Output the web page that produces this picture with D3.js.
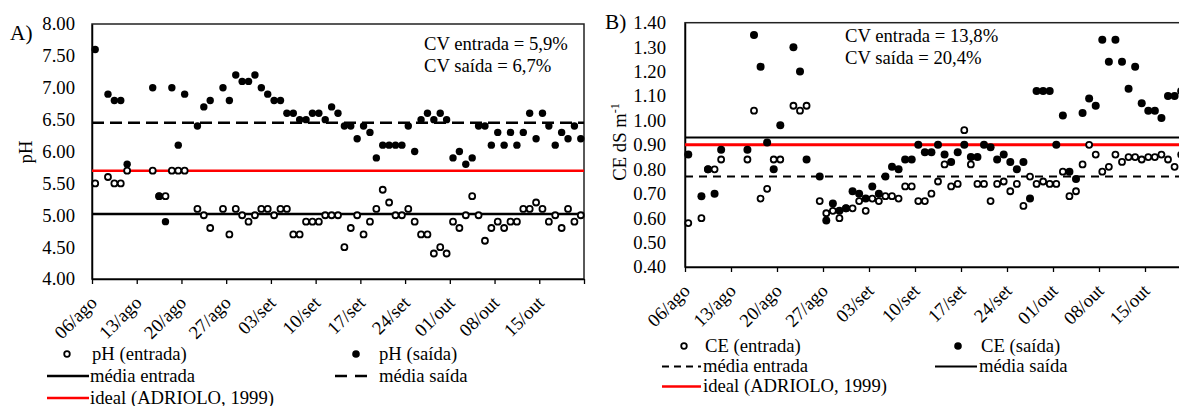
<!DOCTYPE html>
<html>
<head>
<meta charset="utf-8">
<script src="https://cdn.jsdelivr.net/npm/d3@7"></script>
<style>
  body { margin: 0; background: #fff; }
  svg { display: block; font-family: 'Liberation Serif', 'Times New Roman', serif; }
  .lbl { font-size: 18.67px; fill: #000; font-family: 'Liberation Serif', 'Times New Roman', serif; }
  .panel-title { font-size: 21.3px; fill: #000; }
</style>
</head>
<body>
<svg id="chart" width="1179" height="406"></svg>
<script>
// sampling days, counted from 06/ago
const sampleDays = [0, 2, 3, 4, 5, 9, 10, 11, 12, 13, 14, 16, 17, 18, 20, 21, 22, 23, 24, 25,
  26, 27, 28, 29, 30, 31, 32, 33, 34, 35, 36, 37, 38, 39, 40, 41, 42, 43, 44, 45,
  46, 47, 48, 49, 50, 51, 52, 53, 54, 55, 56, 57, 58, 59, 60, 61, 62, 63, 64, 65,
  66, 67, 68, 69, 70, 71, 72, 73, 74, 75, 76];

const weekLabels = ['06/ago', '13/ago', '20/ago', '27/ago', '03/set', '10/set',
  '17/set', '24/set', '01/out', '08/out', '15/out'];

const phEntrada = [5.5, 5.6, 5.5, 5.5, 5.7, 5.7, 5.3, 5.3, 5.7, 5.7, 5.7, 5.1, 5.0, 4.8, 5.1, 4.7, 5.1, 5.0, 4.9, 5.0,
  5.1, 5.1, 5.0, 5.1, 5.1, 4.7, 4.7, 4.9, 4.9, 4.9, 5.0, 5.0, 5.0, 4.5, 4.8, 5.0, 4.7, 4.9, 5.1, 5.4,
  5.2, 5.0, 5.0, 5.1, 4.9, 4.7, 4.7, 4.4, 4.5, 4.4, 4.9, 4.8, 5.0, 5.3, 5.0, 4.6, 4.8, 4.9, 4.8, 4.9,
  4.9, 5.1, 5.1, 5.2, 5.1, 4.9, 5.0, 4.8, 5.1, 4.9, 5.0];

const phSaida = [7.6, 6.9, 6.8, 6.8, 5.8, 7.0, 5.3, 4.9, 7.0, 6.1, 6.9, 6.4, 6.7, 6.8, 7.0, 6.8, 7.2, 7.1, 7.1, 7.2,
  7.0, 6.9, 6.8, 6.8, 6.6, 6.6, 6.5, 6.5, 6.6, 6.6, 6.5, 6.7, 6.6, 6.4, 6.4, 6.2, 6.4, 6.3, 5.9, 6.1,
  6.1, 6.1, 6.1, 6.4, 6.0, 6.5, 6.6, 6.5, 6.6, 6.5, 5.9, 6.0, 5.8, 5.9, 6.4, 6.4, 6.1, 6.3, 6.1, 6.3,
  6.1, 6.3, 6.6, 6.2, 6.6, 6.4, 6.1, 6.3, 6.2, 6.4, 6.2];

const ceEntrada = [0.58, 0.60, 0.80, 0.80, 0.84, 0.84, 1.04, 0.68, 0.72, 0.84, 0.84, 1.06, 1.04, 1.06, 0.67, 0.62, 0.63, 0.60, 0.64, 0.64,
  0.67, 0.63, 0.68, 0.67, 0.69, 0.69, 0.68, 0.73, 0.73, 0.67, 0.67, 0.70, 0.75, 0.82, 0.73, 0.74, 0.96, 0.82, 0.74, 0.74,
  0.67, 0.74, 0.75, 0.71, 0.74, 0.65, 0.77, 0.74, 0.75, 0.74, 0.74, 0.79, 0.69, 0.71, 0.82, 0.90, 0.86, 0.79, 0.81, 0.86,
  0.83, 0.85, 0.85, 0.84, 0.85, 0.85, 0.86, 0.84, 0.81, 0.86, 0.84];

const ceSaida = [0.86, 0.69, 0.80, 0.70, 0.88, 0.88, 1.35, 1.22, 0.91, 0.80, 0.98, 1.30, 1.20, 0.84, 0.77, 0.59, 0.66, 0.63, 0.64, 0.71,
  0.70, 0.68, 0.73, 0.70, 0.77, 0.81, 0.80, 0.84, 0.84, 0.90, 0.87, 0.87, 0.90, 0.86, 0.83, 0.87, 0.90, 0.85, 0.85, 0.90,
  0.89, 0.84, 0.86, 0.83, 0.80, 0.83, 0.68, 1.12, 1.12, 1.12, 0.90, 1.02, 0.79, 0.76, 1.03, 1.09, 1.06, 1.33, 1.24, 1.33,
  1.24, 1.13, 1.22, 1.07, 1.04, 1.04, 1.01, 1.10, 1.10, 1.12, 1.12];

const phTicks = [4, 4.5, 5, 5.5, 6, 6.5, 7, 7.5, 8];
const ceTicks = [0.4, 0.5, 0.6, 0.7, 0.8, 0.9, 1.0, 1.1, 1.2, 1.3, 1.4];

const phMediaEntrada = 5.02;
const phMediaSaida = 6.45;
const phIdeal = 5.70;
const ceMediaEntrada = 0.77;
const ceMediaSaida = 0.93;
const ceIdeal = 0.90;

const phCv = ['CV entrada = 5,9%', 'CV saída = 6,7%'];
const ceCv = ['CV entrada = 13,8%', 'CV saída = 20,4%'];

class ScatterPanel {
  constructor(_config, _data) {
    this.config = _config;
    this.data = _data;
    this.initVis();
  }

  initVis() {
    const vis = this;
    const c = vis.config;
    vis.svg = d3.select(c.parentElement);
    vis.g = vis.svg.append('g');

    vis.xScale = d3.scaleLinear().domain([0, 77]).range([c.left, c.right]);
    vis.yScale = d3.scaleLinear().domain(c.yDomain).range([c.bottom, c.top]);

    // plot area border
    vis.g.append('rect')
      .attr('x', c.left)
      .attr('y', c.top)
      .attr('width', c.right - c.left)
      .attr('height', c.bottom - c.top)
      .attr('fill', 'none')
      .attr('stroke', '#222')
      .attr('stroke-width', 1.5);

    // y axis
    const yAxis = vis.g.append('g')
      .attr('transform', `translate(${c.left},0)`)
      .call(d3.axisLeft(vis.yScale)
        .tickValues(c.yTicks)
        .tickSize(0)
        .tickPadding(c.yTickPad)
        .tickFormat(d3.format('.2f')));
    yAxis.attr('font-family', null).attr('font-size', null);
    yAxis.select('.domain').attr('stroke', '#000').attr('stroke-width', 1.5);
    yAxis.selectAll('text').attr('class', 'lbl');

    // x axis with weekly ticks
    const weekTicks = d3.range(0, 78, 7);
    const xAxis = vis.g.append('g')
      .attr('transform', `translate(0,${c.bottom})`)
      .call(d3.axisBottom(vis.xScale)
        .tickValues(weekTicks)
        .tickSizeInner(5)
        .tickSizeOuter(0)
        .tickFormat(''));
    xAxis.select('.domain').attr('stroke', '#000').attr('stroke-width', 1.5);
    xAxis.selectAll('line').attr('stroke', '#000').attr('stroke-width', 1.3);

    vis.g.selectAll('.xlab')
      .data(weekLabels)
      .join('text')
      .attr('class', 'lbl xlab')
      .attr('text-anchor', 'end')
      .attr('transform', (d, i) => `translate(${vis.xScale(i * 7) + 6},${c.bottom + 25}) rotate(-45)`)
      .text((d) => d);

    // reference lines
    vis.g.selectAll('.ref')
      .data(c.refLines)
      .join('line')
      .attr('class', 'ref')
      .attr('x1', c.left)
      .attr('x2', c.right)
      .attr('y1', (d) => vis.yScale(d.value))
      .attr('y2', (d) => vis.yScale(d.value))
      .attr('stroke', (d) => d.color)
      .attr('stroke-width', (d) => d.width)
      .attr('stroke-dasharray', (d) => d.dash);

    // entrada (open) then saida (filled)
    const pts = (vals) => vals.map((v, i) => ({ day: sampleDays[i], v }));
    vis.g.selectAll('.open')
      .data(pts(vis.data.entrada))
      .join('circle')
      .attr('class', 'open')
      .attr('cx', (d) => vis.xScale(d.day + 0.5))
      .attr('cy', (d) => vis.yScale(d.v))
      .attr('r', c.openR)
      .attr('fill', '#fff')
      .attr('stroke', '#000')
      .attr('stroke-width', 1.8);

    vis.g.selectAll('.filled')
      .data(pts(vis.data.saida))
      .join('circle')
      .attr('class', 'filled')
      .attr('cx', (d) => vis.xScale(d.day + 0.5))
      .attr('cy', (d) => vis.yScale(d.v))
      .attr('r', c.filledR)
      .attr('fill', '#000');

    // panel title and axis label
    vis.g.append('text')
      .attr('class', 'panel-title')
      .attr('x', c.titleX)
      .attr('y', c.titleY)
      .text(c.title);

    const yl = vis.g.append('text')
      .attr('class', 'lbl')
      .attr('text-anchor', 'middle')
      .attr('transform', `translate(${c.yLabelX},${c.yLabelY}) rotate(-90)`);
    yl.append('tspan').text(c.yLabel);
    if (c.yLabelSup) {
      yl.append('tspan').attr('dy', -7).attr('font-size', 12).text(c.yLabelSup);
    }

    // CV annotation
    vis.g.selectAll('.cv')
      .data(c.cv)
      .join('text')
      .attr('class', 'lbl cv')
      .attr('x', c.cvX)
      .attr('y', (d, i) => c.cvY + i * 22)
      .text((d) => d);

    vis.renderLegend();
  }

  renderLegend() {
    const vis = this;
    const items = vis.config.legend;
    items.forEach((it) => {
      if (it.type === 'open') {
        vis.g.append('circle').attr('cx', it.mx).attr('cy', it.y).attr('r', 2.8)
          .attr('fill', '#fff').attr('stroke', '#000').attr('stroke-width', 1.8);
      } else if (it.type === 'filled') {
        vis.g.append('circle').attr('cx', it.mx).attr('cy', it.y).attr('r', 3.8).attr('fill', '#000');
      } else {
        vis.g.append('line')
          .attr('x1', it.mx).attr('x2', it.mx2)
          .attr('y1', it.y).attr('y2', it.y)
          .attr('stroke', it.color)
          .attr('stroke-width', it.width)
          .attr('stroke-dasharray', it.dash);
      }
      vis.g.append('text')
        .attr('class', 'lbl')
        .attr('x', it.tx)
        .attr('y', it.y + 5.5)
        .text(it.label);
    });
  }
}

new ScatterPanel({
  parentElement: '#chart',
  left: 92, right: 584, top: 24, bottom: 279,
  yDomain: [4, 8], yTicks: phTicks, yTickPad: 17,
  openR: 3, filledR: 3.7,
  title: 'A)', titleX: 10, titleY: 40,
  yLabel: 'pH', yLabelX: 32, yLabelY: 152,
  cv: phCv, cvX: 424, cvY: 50,
  refLines: [
    { value: phMediaEntrada, color: '#000', width: 2.5, dash: null },
    { value: phMediaSaida, color: '#000', width: 2.5, dash: '12 6' },
    { value: phIdeal, color: '#ff0000', width: 2.5, dash: null },
  ],
  legend: [
    { type: 'open', mx: 67, y: 354, tx: 92, label: 'pH (entrada)' },
    { type: 'filled', mx: 356, y: 354, tx: 379, label: 'pH (saída)' },
    { type: 'line', mx: 47, mx2: 89, y: 376, color: '#000', width: 2.5, dash: null, tx: 90, label: 'média entrada' },
    { type: 'line', mx: 335, mx2: 369, y: 376, color: '#000', width: 2.5, dash: '12 8', tx: 379, label: 'média saída' },
    { type: 'line', mx: 47, mx2: 89, y: 398, color: '#ff0000', width: 2.5, dash: null, tx: 90, label: 'ideal (ADRIOLO, 1999)' },
  ],
}, { entrada: phEntrada, saida: phSaida });

new ScatterPanel({
  parentElement: '#chart',
  left: 685, right: 1191, top: 22.7, bottom: 267,
  yDomain: [0.4, 1.4], yTicks: ceTicks, yTickPad: 19,
  openR: 3, filledR: 4,
  title: 'B)', titleX: 605, titleY: 29,
  yLabel: 'CE dS m', yLabelSup: '-1', yLabelX: 626, yLabelY: 142,
  cv: ceCv, cvX: 845, cvY: 42,
  refLines: [
    { value: ceMediaEntrada, color: '#000', width: 2, dash: '8 6' },
    { value: ceMediaSaida, color: '#000', width: 2, dash: null },
    { value: ceIdeal, color: '#ff0000', width: 3, dash: null },
  ],
  legend: [
    { type: 'open', mx: 684, y: 346, tx: 705, label: 'CE (entrada)' },
    { type: 'filled', mx: 958, y: 346, tx: 981, label: 'CE (saída)' },
    { type: 'line', mx: 662, mx2: 701, y: 366.5, color: '#000', width: 2, dash: '7 5', tx: 703, label: 'média entrada' },
    { type: 'line', mx: 935, mx2: 977, y: 366.5, color: '#000', width: 2, dash: null, tx: 979, label: 'média saída' },
    { type: 'line', mx: 662, mx2: 701, y: 386.5, color: '#ff0000', width: 2.5, dash: null, tx: 703, label: 'ideal (ADRIOLO, 1999)' },
  ],
}, { entrada: ceEntrada, saida: ceSaida });
</script>
</body>
</html>
